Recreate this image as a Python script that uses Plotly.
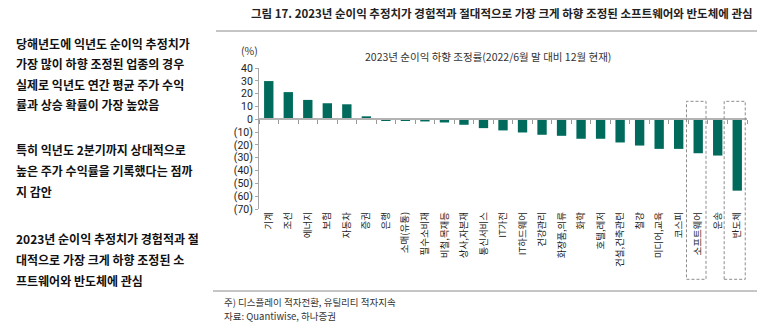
import plotly.graph_objects as go

categories = ["기계", "조선", "에너지", "보험", "자동차", "증권", "은행", "소매(유통)",
              "필수소비재", "비철,목재등", "상사,자본재", "통신서비스", "IT가전", "IT하드웨어",
              "건강관리", "화장품,의류", "화학", "호텔,레저", "건설,건축관련", "철강",
              "미디어,교육", "코스피", "소프트웨어", "운송", "반도체"]
values = [29.8, 21.2, 15.1, 12.5, 11.7, 2.3, -1.2, -1.2, -1.7, -2.5, -4.3, -6.9, -8.7,
          -10.3, -12.1, -12.9, -15.2, -15.2, -18.1, -20.5, -23.1, -23.1, -26.5, -28.3, -55.7]
y_tickvals = [40, 30, 20, 10, 0, -10, -20, -30, -40, -50, -60, -70]
y_ticktext = ["40", "30", "20", "10", "0", "(10)", "(20)", "(30)", "(40)", "(50)", "(60)", "(70)"]
Y_RANGE = [-70, 40]
highlight = ["소프트웨어", "반도체"]

page_title = "그림 17. 2023년 순이익 추정치가 경험적과 절대적으로 가장 크게 하향 조정된 소프트웨어와 반도체에 관심"
chart_title = "2023년 순이익 하향 조정률(2022/6월 말 대비 12월 현재)"
left_lines = ["당해년도에 익년도 순이익 추정치가", "가장 많이 하향 조정된 업종의 경우",
              "실제로 익년도 연간 평균 주가 수익", "률과 상승 확률이 가장 높았음",
              "특히 익년도 2분기까지 상대적으로", "높은 주가 수익률을 기록했다는 점까", "지 감안",
              "2023년 순이익 추정치가 경험적과 절", "대적으로 가장 크게 하향 조정된 소",
              "프트웨어와 반도체에 관심"]
left_y = [43, 63.5, 84, 104.5, 149.5, 170.5, 191.5, 238, 259, 280]
notes = ["주) 디스플레이 적자전환, 유틸리티 적자지속", "자료: Quantiwise, 하나증권"]

W, H = 764, 331
L, R, T, B = 259, 17, 68, 122
PW, PH = W - L - R, H - T - B
FONT = "Noto Sans CJK KR"

def px_x(x):
    return (x - L) / PW

def px_y(y):
    return (H - B - y) / PH

def val_y(v):
    return (v - Y_RANGE[0]) / (Y_RANGE[1] - Y_RANGE[0])

fig = go.Figure()
fig.add_trace(go.Bar(x=categories, y=values, marker=dict(color="#006b5c", line=dict(width=0)),
                     width=0.48, hoverinfo="skip"))
fig.add_trace(go.Scatter(x=categories, y=values, xaxis="x2", mode="markers",
                         marker=dict(opacity=0), hoverinfo="skip", showlegend=False))

fig.update_layout(
    width=W, height=H, margin=dict(l=L, r=R, t=T, b=B),
    paper_bgcolor="white", plot_bgcolor="white", showlegend=False,
    font=dict(family=FONT, color="#222"),
    xaxis=dict(type="category", categoryorder="array", categoryarray=categories,
               range=[-0.5, len(categories) - 0.5], showline=False, showgrid=False,
               zeroline=False, ticks="", tickangle=-90,
               tickfont=dict(size=9.5, color="#222", family=FONT)),
    xaxis2=dict(type="category", categoryorder="array", categoryarray=categories,
                range=[-0.5, len(categories) - 0.5], overlaying="x", anchor="free",
                position=val_y(0), side="bottom", showline=True, linecolor="#b3b3b3",
                linewidth=1.5, showgrid=False, zeroline=False, showticklabels=False,
                ticks="outside", tickson="boundaries", ticklen=4, tickcolor="#999",
                tickwidth=1),
    yaxis=dict(range=Y_RANGE, tickvals=y_tickvals, ticktext=y_ticktext, showgrid=False,
               zeroline=False, showline=True, linecolor="#a6a6a6", linewidth=1,
               ticks="outside", ticklen=3, tickcolor="#a6a6a6",
               tickfont=dict(size=10.5, color="#222", family="Roboto")),
)

shapes = []
for name in highlight:
    i = categories.index(name)
    x0, x1 = (i - 0.6, i + 0.4) if name == "소프트웨어" else (i - 0.67, i + 0.41)
    shapes.append(dict(type="rect", xref="x", yref="paper", x0=x0, x1=x1,
                       y0=px_y(279.3), y1=val_y(14),
                       line=dict(color="#8c8c8c", width=1, dash="3px,2px"),
                       fillcolor="rgba(0,0,0,0)", layer="above"))
shapes.append(dict(type="line", xref="paper", yref="paper", x0=px_x(216), x1=px_x(757),
                   y0=px_y(31), y1=px_y(31), line=dict(color="#8c8c8c", width=1)))
shapes.append(dict(type="line", xref="paper", yref="paper", x0=px_x(213), x1=px_x(757),
                   y0=px_y(291), y1=px_y(291), line=dict(color="#8c8c8c", width=1)))
fig.update_layout(shapes=shapes)

ann = []
ann.append(dict(text=page_title, x=px_x(755), y=px_y(13), xanchor="right", yanchor="middle",
                font=dict(size=11.5, color="#222", family=FONT, weight=700)))
ann.append(dict(text=chart_title, x=px_x(488), y=px_y(56), xanchor="center", yanchor="middle",
                font=dict(size=10.5, color="#333", family=FONT)))
ann.append(dict(text="(%)", x=px_x(249), y=px_y(51), xanchor="center", yanchor="middle",
                font=dict(size=10.5, color="#333", family=FONT)))
for line, yy in zip(left_lines, left_y):
    ann.append(dict(text=line, x=px_x(14), y=px_y(yy), xanchor="left", yanchor="middle",
                    font=dict(size=12, color="#111", family=FONT, weight=700)))
for line, yy in zip(notes, [301.5, 315.5]):
    ann.append(dict(text=line, x=px_x(222), y=px_y(yy), xanchor="left", yanchor="middle",
                    font=dict(size=9.5, color="#333", family=FONT)))
for a in ann:
    a.update(xref="paper", yref="paper", showarrow=False)
fig.update_layout(annotations=ann)

fig.write_html("out.html")
